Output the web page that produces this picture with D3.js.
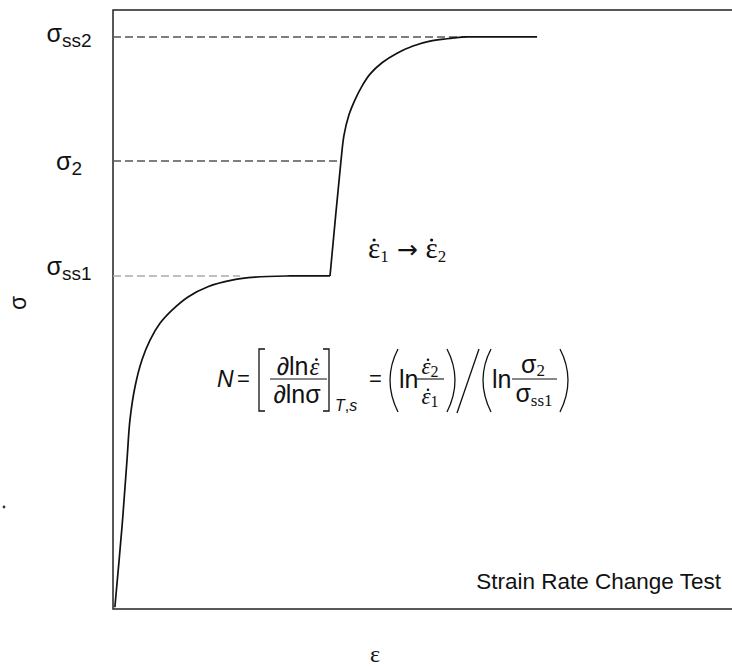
<!DOCTYPE html>
<html>
<head>
<meta charset="utf-8">
<script src="https://cdn.jsdelivr.net/npm/d3@7"></script>
<style>
  html, body { margin: 0; padding: 0; background: #fff; }
  svg { display: block; }
</style>
</head>
<body>
<script>
// ---- data (strain and stress in arbitrary units, 0-100) ----
const strainLoad = [0.3, 1.45, 2.26, 2.74, 3.55, 4.68, 5.97, 7.58, 9.52, 12.1, 15.3, 19.2, 22.9, 28.5, 35.0];
const stressLoad = [0.3, 13.7, 24.9, 31.6, 37.1, 41.6, 44.9, 47.7, 49.9, 52.1, 53.8, 54.9, 55.4, 55.6, 55.6];
const strainReload = [35.0, 36.77, 37.26, 38.06, 39.03, 40.16, 41.45, 43.39, 45.81, 48.39, 51.13, 53.87, 56.77];
const stressReload = [55.6, 74.8, 79.1, 82.5, 85.0, 87.3, 89.3, 91.2, 92.8, 94.0, 94.8, 95.2, 95.5];
const strainSteady = [56.77, 68.4];
const stressSteady = [95.5, 95.5];
const levelSubs = ["ss2", "2", "ss1"];
const levelValues = [95.5, 74.8, 55.6];
const levelDashEnd = [57.0, 36.8, 20.5];

const W = 732, H = 667;
const svg = d3.select("body").append("svg").attr("width", W).attr("height", H);

const x = d3.scaleLinear().domain([0, 100]).range([113, 733]);
const y = d3.scaleLinear().domain([0, 100]).range([609, 10]);

const SANS = "'Liberation Sans', Arial, sans-serif";
const SERIF = "'Liberation Serif', 'Times New Roman', serif";
const INK = "#111";

// frame
svg.append("rect")
  .attr("x", x(0)).attr("y", y(100))
  .attr("width", x(100) - x(0)).attr("height", y(0) - y(100))
  .attr("fill", "none").attr("stroke", "#222").attr("stroke-width", 1.5);

// dashed level lines
const dashColors = ["#555", "#555", "#aaa"];
levelValues.forEach((v, i) => {
  svg.append("line")
    .attr("x1", x(0)).attr("x2", x(levelDashEnd[i]))
    .attr("y1", y(v)).attr("y2", y(v))
    .attr("stroke", dashColors[i]).attr("stroke-width", 1.4)
    .attr("stroke-dasharray", "8,4");
});

// curve
const zip = (a, b) => a.map((d, i) => [d, b[i]]);
const smooth = d3.line().x(d => x(d[0])).y(d => y(d[1])).curve(d3.curveCatmullRom.alpha(0.5));
const straight = d3.line().x(d => x(d[0])).y(d => y(d[1]));
[[zip(strainLoad, stressLoad), smooth], [zip(strainReload, stressReload), smooth], [zip(strainSteady, stressSteady), straight]]
  .forEach(([pts, gen]) => {
    svg.append("path").attr("d", gen(pts))
      .attr("fill", "none").attr("stroke", INK).attr("stroke-width", 1.7)
      .attr("stroke-linejoin", "round");
  });

// level labels
const labelOffsets = [5, 9, -1];
levelValues.forEach((v, i) => {
  const t = svg.append("text")
    .attr("x", 69).attr("y", y(v) + labelOffsets[i])
    .attr("text-anchor", "middle").attr("font-family", SANS).attr("fill", INK);
  t.append("tspan").attr("font-size", 25).text("σ");
  t.append("tspan").attr("font-size", 19).attr("dy", 5).text(levelSubs[i]);
});

// axis labels
svg.append("text")
  .attr("transform", "translate(26,303) rotate(-90)")
  .attr("text-anchor", "middle").attr("font-family", SANS).attr("font-size", 23)
  .attr("fill", INK).text("σ");
svg.append("text")
  .attr("x", 375).attr("y", 662).attr("text-anchor", "middle")
  .attr("font-family", SERIF).attr("font-size", 24).attr("fill", INK).text("ε");

// stray dot
svg.append("circle").attr("cx", 4).attr("cy", 507).attr("r", 1.4).attr("fill", "#333");

// title
svg.append("text")
  .attr("x", 721).attr("y", 589).attr("text-anchor", "end")
  .attr("font-family", SANS).attr("font-size", 22.5).attr("fill", INK)
  .text("Strain Rate Change Test");

// helper: dot over a character of a text element
function dotOver(textSel, idx, baseline, size, shift) {
  const ext = textSel.node().getExtentOfChar(idx);
  svg.append("circle")
    .attr("cx", ext.x + ext.width / 2 + (shift || 0))
    .attr("cy", baseline - 0.62 * size)
    .attr("r", Math.max(1.1, size * 0.055)).attr("fill", INK);
}

// rate change label
const rc = svg.append("text").attr("x", 368).attr("y", 258)
  .attr("font-family", SERIF).attr("font-size", 29).attr("fill", INK);
rc.append("tspan").text("ε");
rc.append("tspan").attr("font-size", 17).attr("dy", 4).text("1");
rc.append("tspan").attr("dy", -4).attr("font-family", "'DejaVu Sans', sans-serif").attr("font-size", 25).text(" → ");
rc.append("tspan").text("ε");
rc.append("tspan").attr("font-size", 17).attr("dy", 4).text("2");
dotOver(rc, 0, 258, 29, 0);
dotOver(rc, 5, 258, 29, 0);

// formula
const F = svg.append("g").attr("fill", INK);
function txt(xp, yp, parts, anchor) {
  const t = F.append("text").attr("x", xp).attr("y", yp)
    .attr("text-anchor", anchor || "start");
  parts.forEach(p => {
    const s = t.append("tspan").text(p.t)
      .attr("font-family", p.serif ? SERIF : SANS)
      .attr("font-size", p.size || 24);
    if (p.it) s.attr("font-style", "italic");
    if (p.dy) s.attr("dy", p.dy);
    if (p.dx) s.attr("dx", p.dx);
  });
  return t;
}
function stroke(d, w) {
  F.append("path").attr("d", d).attr("fill", "none").attr("stroke", INK).attr("stroke-width", w || 1.3);
}
txt(217, 387, [{t: "N", it: true, size: 23}]);
txt(237, 386, [{t: "=", size: 22}]);
stroke("M265,349 H259 V411 H265");
const num1 = txt(298, 375, [{t: "∂ln", size: 25}, {t: "ε", it: true, serif: true, size: 25, dx: 1}], "middle");
dotOver(num1, 3, 375, 25, 2);
stroke("M270,379 H327", 1.1);
txt(297, 403, [{t: "∂lnσ", size: 25}], "middle");
stroke("M323,349 H329 V411 H323");
txt(335, 411, [{t: "T", it: true, size: 16}, {t: ",", size: 16}, {t: "s", it: true, size: 16}]);
txt(369, 386, [{t: "=", size: 22}]);
stroke("M398,349 Q382,380 398,412");
txt(399, 388, [{t: "ln", size: 25}]);
const num2 = txt(430, 374, [{t: "ε", it: true, serif: true, size: 23}, {t: "2", serif: true, size: 16, dy: 3}], "middle");
dotOver(num2, 0, 374, 23, 2);
stroke("M417,379 H444", 1.1);
const den2 = txt(430, 404, [{t: "ε", it: true, serif: true, size: 23}, {t: "1", serif: true, size: 16, dy: 3}], "middle");
dotOver(den2, 0, 404, 23, 2);
stroke("M447,349 Q463,380 447,412");
stroke("M479,349 L457,413");
stroke("M491,349 Q475,380 491,412");
txt(492, 388, [{t: "ln", size: 25}]);
txt(533, 373, [{t: "σ", size: 25}, {t: "2", serif: true, size: 17, dy: 3}], "middle");
stroke("M512,379 H557", 1.1);
txt(534, 402, [{t: "σ", size: 25}, {t: "ss1", serif: true, size: 17, dy: 4}], "middle");
stroke("M560,349 Q576,380 560,412");
</script>
</body>
</html>
